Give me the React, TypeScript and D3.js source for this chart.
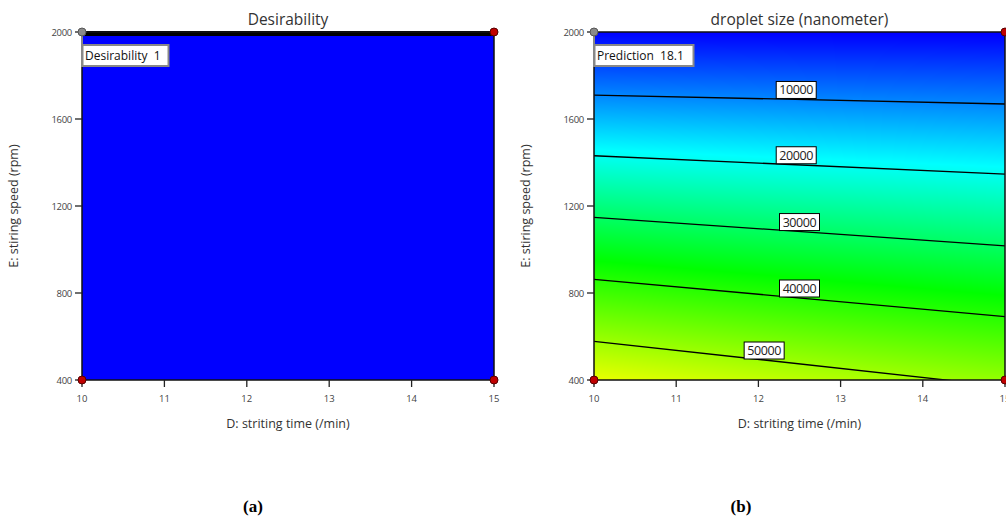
import React, { useRef, useEffect } from 'react';
import * as d3 from 'd3';

// factor ranges and ticks
const dTicks = [10, 11, 12, 13, 14, 15];
const eTicks = [400, 800, 1200, 1600, 2000];

// droplet size contours: E value where each level meets D=10 and D=15
const levels = [0, 10000, 20000, 30000, 40000, 50000];
const eAtD10 = [2000, 1710, 1431, 1148, 863, 578];
const eAtD15 = [1990, 1669, 1347, 1017, 691, 370];
const labelD = [null, 12.46, 12.46, 12.5, 12.5, 12.07];

// colour stops of the prediction map
const colorValues = [0, 19000, 37000, 58000];
const colorStops = ['#0000ff', '#00ffff', '#00ff00', '#ffff00'];

// design points and flags
const designPoints = [
    { d: 15, e: 2000 },
    { d: 10, e: 400 },
    { d: 15, e: 400 },
];
const flagPoint = { d: 10, e: 2000 };
const desirability = 1;
const prediction = 18.1;

const top = 32;
const bottom = 380;
const font = '"Open Sans", "Noto Sans", sans-serif';

const dropletAt = (d, e) => {
    const t = (d - 10) / 5;
    const es = levels.map((_, i) => eAtD10[i] + (eAtD15[i] - eAtD10[i]) * t);
    let i = 0;
    while (i < levels.length - 2 && e < es[i + 1]) i++;
    const v = levels[i] + (levels[i + 1] - levels[i]) * (es[i] - e) / (es[i] - es[i + 1]);
    return Math.max(0, v);
};

const Panel = ({ left, right, title, fill, flagText }) => {
    const x = d3.scaleLinear().domain([10, 15]).range([left, right]);
    const y = d3.scaleLinear().domain([400, 2000]).range([bottom, top]);
    const imgRef = useRef(null);

    useEffect(() => {
        if (fill !== 'map' || !imgRef.current) return;
        const w = Math.round(right - left);
        const h = Math.round(bottom - top);
        const canvas = document.createElement('canvas');
        canvas.width = w;
        canvas.height = h;
        const ctx = canvas.getContext('2d');
        const img = ctx.createImageData(w, h);
        const color = d3.scaleLinear().domain(colorValues).range(colorStops).clamp(true);
        for (let py = 0; py < h; py++) {
            const e = y.invert(top + py + 0.5);
            for (let px = 0; px < w; px++) {
                const d = x.invert(left + px + 0.5);
                const c = d3.rgb(color(dropletAt(d, e)));
                const k = (py * w + px) * 4;
                img.data[k] = c.r;
                img.data[k + 1] = c.g;
                img.data[k + 2] = c.b;
                img.data[k + 3] = 255;
            }
        }
        ctx.putImageData(img, 0, 0);
        d3.select(imgRef.current).attr('href', canvas.toDataURL());
    }, []);

    const line = d3.line().x(p => x(p[0])).y(p => y(p[1]));
    const cx = (left + right) / 2;

    return (
        <g>
            <defs>
                <clipPath id={'clip' + left}>
                    <rect x={left} y={top} width={right - left} height={bottom - top} />
                </clipPath>
            </defs>
            <text x={cx} y={25} textAnchor="middle" fontFamily={font} fontSize={15.5} fill="#333">{title}</text>
            {fill === 'map'
                ? <image ref={imgRef} x={left} y={top} width={right - left} height={bottom - top} preserveAspectRatio="none" />
                : <rect x={left} y={top} width={right - left} height={bottom - top} fill="#0000ff" />}
            {fill === 'map' && (
                <g clipPath={`url(#clip${left})`}>
                    {levels.slice(1).map((lv, j) => {
                        const i = j + 1;
                        return <path key={lv} d={line([[10, eAtD10[i]], [15, eAtD15[i]]])} stroke="#000" strokeWidth={1.3} fill="none" />;
                    })}
                </g>
            )}
            {fill === 'map' && levels.slice(1).map((lv, j) => {
                const i = j + 1;
                const t = (labelD[i] - 10) / 5;
                const e = eAtD10[i] + (eAtD15[i] - eAtD10[i]) * t;
                const lx = x(labelD[i]);
                const ly = y(e);
                return (
                    <g key={'l' + lv}>
                        <rect x={lx - 20} y={ly - 18} width={40} height={17} fill="#fff" stroke="#000" strokeWidth={1} />
                        <text x={lx} y={ly - 5} textAnchor="middle" fontFamily={font} fontSize={12.5} letterSpacing={-0.4} fill="#222">{lv}</text>
                    </g>
                );
            })}
            {fill !== 'map' && (
                <line x1={left} x2={right} y1={top + 1.5} y2={top + 1.5} stroke="#000" strokeWidth={5} />
            )}
            <rect x={left} y={top} width={right - left} height={bottom - top} fill="none" stroke="#111" strokeWidth={1.5} />
            {/* y axis */}
            {eTicks.map(t => (
                <g key={'y' + t}>
                    <line x1={left - 7} x2={left} y1={y(t)} y2={y(t)} stroke="#222" strokeWidth={1.3} />
                    <text x={left - 10} y={y(t) + 3.5} textAnchor="end" fontFamily={font} fontSize={9.5} fill="#444" letterSpacing={-0.3}>{t}</text>
                </g>
            ))}
            <text transform={`translate(${left - 64},${(top + bottom) / 2}) rotate(-90)`} textAnchor="middle" fontFamily={font} fontSize={12.5} fill="#333">E: stiring speed (rpm)</text>
            {/* x axis */}
            {dTicks.map(t => (
                <g key={'x' + t}>
                    <line x1={x(t)} x2={x(t)} y1={bottom} y2={bottom + 7} stroke="#222" strokeWidth={1.3} />
                    <text x={x(t)} y={bottom + 22} textAnchor="middle" fontFamily={font} fontSize={9.5} fill="#444">{t}</text>
                </g>
            ))}
            <text x={cx} y={428} textAnchor="middle" fontFamily={font} fontSize={12.5} fill="#333">D: striting time (/min)</text>
            {/* flag */}
            <line x1={x(flagPoint.d)} x2={x(flagPoint.d)} y1={y(flagPoint.e)} y2={y(flagPoint.e) + 35} stroke="#888" strokeWidth={2} />
            <rect x={left + 0.5} y={45} width={flagText.w} height={21} fill="#fff" stroke="#888" strokeWidth={2} />
            <text x={left + 3} y={60} fontFamily={font} fontSize={12} fill="#111" style={{ whiteSpace: 'pre' }}>{flagText.label}</text>
            {designPoints.map((p, i) => (
                <circle key={i} cx={x(p.d)} cy={y(p.e)} r={4} fill="#c00000" stroke="#500" strokeWidth={1} />
            ))}
            <circle cx={x(flagPoint.d)} cy={y(flagPoint.e)} r={4} fill="#8a8a8a" stroke="#555" strokeWidth={1} />
        </g>
    );
};

const App = () => {
    return (
        <svg width={1006} height={519} style={{ position: 'absolute', left: 0, top: 0, background: '#fff' }}>
            <Panel left={82} right={494} title="Desirability" fill="flat"
                flagText={{ label: `Desirability  ${desirability}`, w: 86 }} />
            <Panel left={594} right={1005} title="droplet size (nanometer)" fill="map"
                flagText={{ label: `Prediction  ${prediction}`, w: 99 }} />
            <text x={253} y={512} textAnchor="middle" fontFamily="'Liberation Serif', serif" fontWeight="bold" fontSize={17} fill="#000">(a)</text>
            <text x={741} y={512} textAnchor="middle" fontFamily="'Liberation Serif', serif" fontWeight="bold" fontSize={17} fill="#000">(b)</text>
        </svg>
    );
};

export default App;
